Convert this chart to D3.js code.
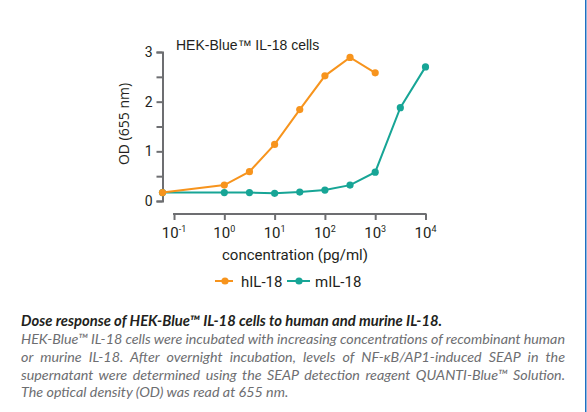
<!DOCTYPE html>
<html>
<head>
<meta charset="utf-8">
<script src="https://cdn.jsdelivr.net/npm/d3@7"></script>
<style>
  html, body { margin: 0; padding: 0; background: #fff; }
  svg { display: block; }
</style>
</head>
<body>
<svg id="chart" width="587" height="412"></svg>
<script>
// ---- data ----
const title = "HEK-Blue\u2122 IL-18 cells";
const yLabel = "OD (655 nm)";
const xLabel = "concentration (pg/ml)";
const seriesNames = ["hIL-18", "mIL-18"];
const seriesColors = ["#f7941d", "#17a596"];
// first point = no-cytokine control, drawn at the y axis
const hConc = [0.059, 1, 3.16, 10, 31.6, 100, 316, 1000];
const hOD   = [0.17, 0.32, 0.59, 1.14, 1.84, 2.52, 2.89, 2.58];
const mConc = [0.059, 1, 3.16, 10, 31.6, 100, 316, 1000, 3160, 10000];
const mOD   = [0.17, 0.17, 0.17, 0.155, 0.18, 0.22, 0.32, 0.58, 1.88, 2.70];
const xTicks = [0.1, 1, 10, 100, 1000, 10000];
const xTickExp = ["-1", "0", "1", "2", "3", "4"];
const yTicks = [0, 0.5, 1, 1.5, 2, 2.5, 3];
const yTickLabels = ["0", "", "1", "", "2", "", "3"];
const captionTitle = "Dose response of HEK-Blue\u2122 IL-18 cells to human and murine IL-18.";
const captionLines = [
  "HEK-Blue\u2122 IL-18 cells were incubated with increasing concentrations of recombinant human",
  "or murine IL-18. After overnight incubation, levels of NF-\u03baB/AP1-induced SEAP in the",
  "supernatant were determined using the SEAP detection reagent QUANTI-Blue\u2122 Solution.",
  "The optical density (OD) was read at 655 nm."
];
const captionJustify = [true, true, true, false];

// ---- drawing ----
const svg = d3.select("#chart");
const axisColor = "#6d6e71";
const textColor = "#231f20";

const x = d3.scaleLog().domain([0.059, 10000]).range([162.5, 425.5]);
const y = d3.scaleLinear().domain([0, 3]).range([201, 52]);
const x0 = x(hConc[0]);

// title
svg.append("text").attr("x", 176).attr("y", 50)
  .attr("font-family", "Liberation Sans, Arial, sans-serif").attr("font-size", 14)
  .attr("fill", textColor).text(title);

// y axis
const yAxis = svg.append("g").attr("transform", `translate(${x0},0)`)
  .call(d3.axisLeft(y).tickValues(yTicks).tickSize(6).tickSizeOuter(6)
    .tickFormat((d, i) => yTickLabels[i]));
yAxis.selectAll("path, line").attr("stroke", axisColor).attr("stroke-width", 2);
yAxis.selectAll("text").attr("font-family", "Roboto, sans-serif").attr("font-size", 14)
  .attr("fill", textColor).attr("x", -10);

// y label
svg.append("text").attr("transform", "translate(129,124) rotate(-90)")
  .attr("text-anchor", "middle").attr("font-family", "Open Sans, sans-serif")
  .attr("font-size", 14).attr("fill", textColor).text(yLabel);

// x axis (separate, offset below)
const xAxisY = 214;
const xAxis = svg.append("g").attr("transform", `translate(0,${xAxisY})`)
  .call(d3.axisBottom(x).tickValues(xTicks).tickSize(6).tickFormat(""));
xAxis.select(".domain").remove();
xAxis.selectAll("line").attr("stroke", axisColor).attr("stroke-width", 2);
xAxis.append("line").attr("x1", x(xTicks[0]) - 1).attr("x2", x(xTicks[xTicks.length - 1]) + 1)
  .attr("y1", 0).attr("y2", 0).attr("stroke", axisColor).attr("stroke-width", 2);
const xl = svg.append("g");
xTicks.forEach((t, i) => {
  const tx = xl.append("text").attr("x", x(t)).attr("y", 238)
    .attr("text-anchor", "middle").attr("font-family", "Roboto, sans-serif")
    .attr("font-size", 15).attr("fill", textColor);
  tx.append("tspan").text("10");
  tx.append("tspan").attr("font-size", 9).attr("dy", -6).text(xTickExp[i]);
});

// x label
svg.append("text").attr("x", 295).attr("y", 260).attr("text-anchor", "middle")
  .attr("font-family", "Roboto, sans-serif").attr("font-size", 15)
  .attr("fill", textColor).text(xLabel);

// series
const line = d3.line().x(d => x(d[0])).y(d => y(d[1]));
const series = [
  { conc: mConc, od: mOD, color: seriesColors[1] },
  { conc: hConc, od: hOD, color: seriesColors[0] }
];
series.forEach(s => {
  const pts = s.conc.map((c, i) => [c, s.od[i]]);
  svg.append("path").datum(pts).attr("d", line).attr("fill", "none")
    .attr("stroke", s.color).attr("stroke-width", 2);
  svg.append("g").selectAll("circle").data(pts).join("circle")
    .attr("cx", d => x(d[0])).attr("cy", d => y(d[1])).attr("r", 3.6)
    .attr("fill", s.color);
});

// legend
const legend = [
  { name: seriesNames[0], color: seriesColors[0], x1: 215, x2: 233, cx: 225, tx: 241 },
  { name: seriesNames[1], color: seriesColors[1], x1: 287, x2: 310, cx: 299, tx: 315 }
];
const ly = 281;
legend.forEach(l => {
  svg.append("line").attr("x1", l.x1).attr("x2", l.x2).attr("y1", ly).attr("y2", ly)
    .attr("stroke", l.color).attr("stroke-width", 2);
  svg.append("circle").attr("cx", l.cx).attr("cy", ly).attr("r", 3.6).attr("fill", l.color);
  svg.append("text").attr("x", l.tx).attr("y", ly + 5.5)
    .attr("font-family", "Roboto, sans-serif").attr("font-size", 15)
    .attr("fill", textColor).text(l.name);
});

// caption
const capX = 21, capRight = 565;
svg.append("text").attr("x", capX).attr("y", 326)
  .attr("font-family", "Lato, sans-serif").attr("font-style", "italic").attr("font-weight", "bold")
  .attr("font-size", 14.8).attr("fill", textColor).text(captionTitle);
captionLines.forEach((t, i) => {
  const el = svg.append("text").attr("x", capX).attr("y", 344 + i * 17.8)
    .attr("font-family", "Lato, sans-serif").attr("font-style", "italic")
    .attr("font-size", 14.3).attr("fill", "#6d6e71").text(t);
  if (captionJustify[i]) {
    const w = el.node().getComputedTextLength();
    const n = (t.match(/ /g) || []).length;
    el.attr("word-spacing", (capRight - capX - w) / n);
  }
});

// right border line
svg.append("rect").attr("x", 585).attr("y", 0).attr("width", 1.5).attr("height", 412)
  .attr("fill", "#1f6fc1");
</script>
</body>
</html>
